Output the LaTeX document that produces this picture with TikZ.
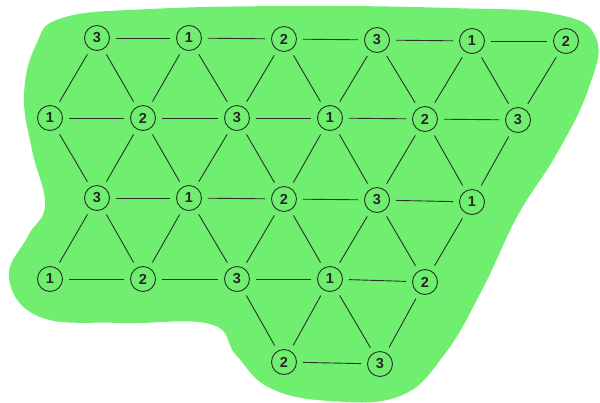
\documentclass[tikz,border=0pt]{standalone}
\usepackage{fontspec}
\setmainfont{Liberation Sans}
\definecolor{blob}{RGB}{112,238,112}
\definecolor{ink}{RGB}{40,50,40}
\begin{document}
\begin{tikzpicture}[x=1pt,y=-1pt,
  v/.style={circle,draw=ink,line width=0.9pt,minimum size=25pt,inner sep=0pt,font=\fontsize{14.5}{14.5}\selectfont\bfseries,text=black!85},
  e/.style={draw=ink,line width=0.9pt,shorten >=6pt,shorten <=6pt}]
\useasboundingbox (0,0) rectangle (600,402);
\fill[blob] plot[smooth cycle,tension=0.7] coordinates {
 (62,18) (150,9) (300,6) (450,8) (555,14) (596,38) (588,90) (556,155) (518,215)
 (482,290) (444,355) (400,396) (330,401) (270,388) (236,355) (210,324) (120,323)
 (40,317) (9,278) (28,236) (45,205) (32,150) (24,95) (36,45)};
% row 0
\node[v] (a1) at (97,38) {3};
\node[v] (a2) at (189,38) {1};
\node[v] (a3) at (284,39) {2};
\node[v] (a4) at (377,40) {3};
\node[v] (a5) at (472,41) {1};
\node[v] (a6) at (566,41) {2};
% row 1
\node[v] (b1) at (50,118) {1};
\node[v] (b2) at (143,118) {2};
\node[v] (b3) at (237,118) {3};
\node[v] (b4) at (330,118) {1};
\node[v] (b5) at (425,119) {2};
\node[v] (b6) at (518,120) {3};
% row 2
\node[v] (c1) at (97,198) {3};
\node[v] (c2) at (189,198) {1};
\node[v] (c3) at (284,199) {2};
\node[v] (c4) at (377,200) {3};
\node[v] (c5) at (472,202) {1};
% row 3
\node[v] (d1) at (50,279) {1};
\node[v] (d2) at (143,279) {2};
\node[v] (d3) at (237,279) {3};
\node[v] (d4) at (330,279) {1};
\node[v] (d5) at (425,282) {2};
% row 4
\node[v] (f1) at (284,362) {2};
\node[v] (f2) at (380,364) {3};
% horizontal edges
\foreach \p/\q in {a1/a2,a2/a3,a3/a4,a4/a5,a5/a6,
  b1/b2,b2/b3,b3/b4,b4/b5,b5/b6,
  c1/c2,c2/c3,c3/c4,c4/c5,
  d1/d2,d2/d3,d3/d4,d4/d5,
  f1/f2}
  \draw[e] (\p) -- (\q);
% diagonal edges
\foreach \p/\q in {a1/b1,a1/b2,a2/b2,a2/b3,a3/b3,a3/b4,a4/b4,a4/b5,a5/b5,a5/b6,a6/b6,
  c1/b1,c1/b2,c2/b2,c2/b3,c3/b3,c3/b4,c4/b4,c4/b5,c5/b5,c5/b6,
  d1/c1,d2/c1,d2/c2,d3/c2,d3/c3,d4/c3,d4/c4,d5/c4,d5/c5,
  f1/d3,f1/d4,f2/d4,f2/d5}
  \draw[e] (\p) -- (\q);
\end{tikzpicture}
\end{document}
